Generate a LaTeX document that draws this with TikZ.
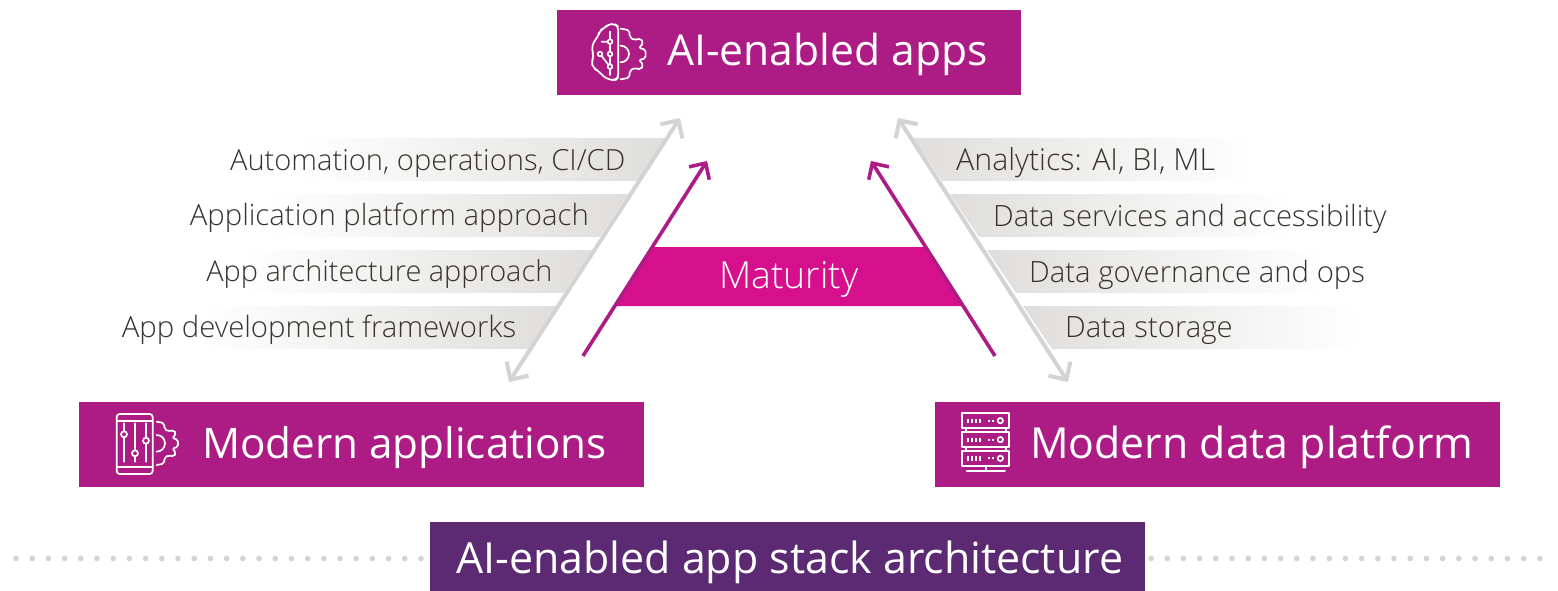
\documentclass[tikz,border=0pt]{standalone}
\usepackage{fontspec}
\setmainfont{Open Sans Light}
\newfontfamily\boxfont{Open Sans}
\usetikzlibrary{arrows.meta,calc}
\definecolor{boxm}{HTML}{AD1C85}
\definecolor{matm}{HTML}{D60F8C}
\definecolor{darkp}{HTML}{5B2A72}
\definecolor{grayline}{HTML}{D4D3D1}
\definecolor{band}{HTML}{DFDEDC}
\definecolor{txt}{HTML}{38332F}
\newcommand{\halfgear}{(-90:1) -- (-70:1) -- (-62:.76) -- (-46:.76) -- (-38:1) -- (-26:1) -- (-18:.76) -- (-10:1) -- (10:1) -- (18:.76) -- (26:1) -- (38:1) -- (46:.76) -- (62:.76) -- (70:1) -- (90:1)}
\newcommand{\bandL}[5]{\begin{scope}\clip (#1-60,#3) -- (#2,#3) -- (#2-28,#4) -- (#1-60,#4) -- cycle;
\shade[left color=white,right color=band,shading angle=90] (#1,#3) rectangle (#2,#4);\end{scope}}
\newcommand{\bandR}[5]{\begin{scope}\clip (#1,#3) -- (#2,#3) -- (#2,#4) -- (#1+29,#4) -- cycle;
\shade[left color=band,right color=white] (#1,#3) rectangle (#2,#4);\end{scope}}
\newcommand{\fsz}[1]{\fontsize{#1}{#1}\selectfont}
\tikzset{
 x=1pt,y=-1pt,
 mbox/.style={fill=boxm,text=white,inner sep=0pt,anchor=north west},
 boxtext/.style={text=white,anchor=base west,inner sep=0pt,font=\boxfont\fsz{42.6}},
 rowtext/.style={text=txt,inner sep=0pt,font=\fsz{29.3}},
 grayarrow/.style={draw=grayline,line width=4pt,{Straight Barb[length=13pt,width=26pt,line width=4pt]}-{Straight Barb[length=13pt,width=26pt,line width=4pt]}},
 magarrow/.style={draw=boxm,line width=3.6pt,-{Straight Barb[length=12pt,width=24pt,line width=3.6pt]}},
 icon/.style={draw=white,line width=1.7pt,line join=round,line cap=round},
}
\begin{document}
\begin{tikzpicture}[x=1pt,y=-1pt]
\useasboundingbox (0,0) rectangle (1558,591);
% bands
\bandL{300}{665}{138}{181}{}
\bandL{270}{628}{194}{237}{}
\bandL{240}{592}{250}{293}{}
\bandL{200}{556}{306}{349}{}
\bandR{913}{1250}{138}{181}{}
\bandR{950}{1290}{194}{237}{}
\bandR{987}{1325}{250}{293}{}
\bandR{1023}{1360}{306}{349}{}
% maturity band
\fill[matm] (652,247) -- (926,247) -- (963,306) -- (615,306) -- cycle;
\node[text=white,inner sep=0pt,font=\fsz{37.3}] (mat) at (789,279) {Maturity};
% row labels
\node[rowtext,anchor=east,font=\fsz{29.1}] (l1) at (625.5,163) {Automation, operations, CI/CD};
\node[rowtext,anchor=east] (l2) at (589,218) {Application platform approach};
\node[rowtext,anchor=east,font=\fsz{28.9}] (l3) at (552.5,274) {App architecture approach};
\node[rowtext,anchor=east] (l4) at (516.5,330) {App development frameworks};
\node[rowtext,anchor=west,font=\fsz{30.3}] (r1) at (956,163) {Analytics: AI, BI, ML};
\node[rowtext,anchor=west] (r2) at (993,219) {Data services and accessibility};
\node[rowtext,anchor=west] (r3) at (1029,275) {Data governance and ops};
\node[rowtext,anchor=west] (r4) at (1065,331) {Data storage};
% boxes
\node[mbox,minimum width=464pt,minimum height=85pt] (top) at (557,10) {};
\node[mbox,minimum width=565pt,minimum height=85pt] (left) at (79,402) {};
\node[mbox,minimum width=565pt,minimum height=85pt] (right) at (935,402) {};
\node[fill=darkp,inner sep=0pt,anchor=north west,minimum width=715pt,minimum height=69pt] (stack) at (430,522) {};
\node[boxtext] (topt) at (667,66) {AI-enabled apps};
\node[boxtext,font=\boxfont\fsz{42.2}] (leftt) at (202,458) {Modern applications};
\node[boxtext,font=\boxfont\fsz{42.8}] (rightt) at (1030,458) {Modern data platform};
\node[boxtext,font=\boxfont\fsz{42.9}] (stackt) at (456,573) {AI-enabled app stack architecture};
% dots
\foreach \i in {0,...,25} \fill[grayline] (16+16.2*\i,558.5) circle (2.8);
\foreach \i in {0,...,24} \fill[grayline] (1151+16.2*\i,558.5) circle (2.8);
% arrows
\coordinate (gla) at (509,382); \coordinate (glb) at (680,118);
\coordinate (gra) at (1068,382); \coordinate (grb) at (898,118);
\coordinate (mla) at (583,356); \coordinate (mlb) at (707,161);
\coordinate (mra) at (995,356); \coordinate (mrb) at (871,161);
\draw[grayarrow] (gla) -- (glb);
\draw[grayarrow] (gra) -- (grb);
\draw[magarrow] (mla) -- (mlb);
\draw[magarrow] (mra) -- (mrb);
% brain icon
\begin{scope}[shift={(550,0)},x=0.3333pt,y=-0.3333pt]
\draw[icon,rounded corners=4pt] (205,80) -- (195,72) -- (175,72) -- (163,85) -- (148,92) -- (145,110) -- (130,125) -- (125,150) -- (132,168) -- (124,185) -- (130,205) -- (145,212) -- (160,230) -- (180,240) -- (197,240) -- (205,232) -- cycle;
\draw[icon] (180,95) -- (180,118) (180,132) -- (180,155) (180,169) -- (180,193) (180,207) -- (180,225);
\draw[icon] (155,125) -- (173,125) (155,168) -- (175,194);
\draw[icon] (180,125) circle (7) (180,162) circle (7) (180,200) circle (7) (150,162) circle (7);
\draw[icon] (212,137) arc (-90:90:25);
\begin{scope}[shift={(212,162)},x=76*0.3333pt,y=-76*0.3333pt]
\draw[icon,rounded corners=2pt] \halfgear;
\end{scope}
\end{scope}
% phone icon
\begin{scope}[shift={(80,400)},x=0.3333pt,y=-0.3333pt]
\draw[icon,rounded corners=3pt] (110,42) rectangle (218,222);
\draw[icon] (110,62) -- (218,62) (110,200) -- (218,200);
\draw[icon] (132,70) -- (132,94) (132,112) -- (132,185);
\draw[icon] (165,70) -- (165,151) (165,169) -- (165,185);
\draw[icon] (198,70) -- (198,113) (198,131) -- (198,185);
\draw[icon] (132,103) circle (9) (165,160) circle (9) (198,122) circle (9);
\draw[icon] (230,105) arc (-90:90:25);
\begin{scope}[shift={(230,130)},x=65*0.3333pt,y=-65*0.3333pt]
\draw[icon,rounded corners=2pt] \halfgear;
\end{scope}
\end{scope}
% server icon
\begin{scope}[shift={(935,400)},x=0.3333pt,y=-0.3333pt]
\foreach \y in {40,97,153}{
 \draw[icon] (82,\y) rectangle (222,\y+45);
 \draw[icon,line width=2pt,line cap=butt] (98,\y+16) -- (98,\y+29) (110,\y+16) -- (110,\y+29) (122,\y+16) -- (122,\y+29) (134,\y+16) -- (134,\y+29) (160,\y+22) -- (165,\y+22) (172,\y+22) -- (177,\y+22);
 \draw[icon] (196,\y+22) circle (8);
}
\draw[icon] (92,85) -- (92,97) (212,85) -- (212,97) (92,142) -- (92,153) (212,142) -- (212,153);
\draw[icon] (152,198) -- (152,213) (95,214) -- (210,214);
\end{scope}
\end{tikzpicture}
\end{document}
